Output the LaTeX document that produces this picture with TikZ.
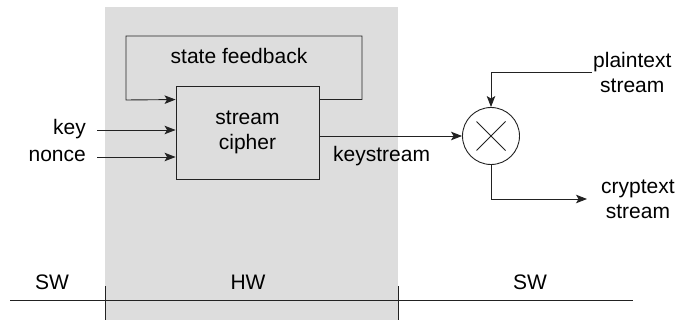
\documentclass[tikz,border=0pt]{standalone}
\usepackage{fontspec}
\setmainfont{Liberation Sans}
\usetikzlibrary{arrows.meta, positioning, calc}
\definecolor{scHW}{HTML}{DDDDDD}
\definecolor{scInk}{HTML}{222222}
\tikzset{
  scbox/.style={draw=scInk, line width=0.9pt, fill=scHW, align=center,
    minimum width=143pt, minimum height=93pt, inner sep=0pt},
  scmix/.style={circle, draw=scInk, line width=0.9pt, fill=white,
    minimum size=57pt, inner sep=0pt,
    path picture={\draw[line width=0.9pt, draw=scInk,
      shift={(path picture bounding box.center)}]
      (-14.5pt,-14.5pt) -- (14.5pt,14.5pt) (-14.5pt,14.5pt) -- (14.5pt,-14.5pt);}},
  sclabel/.style={text=black, inner sep=0pt, align=center},
  scedge/.style={-{Stealth[length=11pt, width=8.5pt, inset=2.5pt]}, line width=0.9pt, draw=scInk},
  scline/.style={line width=0.9pt, draw=scInk},
}

\begin{document}
\begin{tikzpicture}[x=1pt, y=-1pt, font=\fontsize{21}{25}\selectfont]
  \useasboundingbox (0,0) rectangle (685,320);

  % --- Hardware band ------------------------------------------------------
  \node[fill=scHW, inner sep=0pt, minimum width=293pt, minimum height=313pt,
        anchor=north west] (hw) at (105,7) {};

  % --- Cipher and feedback loop -------------------------------------------
  \node[scbox]   (cipher) at (247.5,132.5) {stream\\cipher};
  \node[sclabel] (fblbl)  at (239,56)      {state feedback};
  \coordinate (fbR) at (362,36);
  \coordinate (fbL) at (126,100);
  \draw[scedge] ($(cipher.north east)+(0,14)$) -| (fbR) -| (fbL)
        -- ($(cipher.north west)+(0,14)$);

  % inputs
  \node[sclabel, anchor=east, text height=15pt, text depth=5pt] (key)   at (86,130) {key};
  \node[sclabel, anchor=east, text height=15pt, text depth=5pt] (nonce) at (86,157) {nonce};
  \draw[scedge] ([xshift=11pt]key.east)   -- (key -| cipher.west);
  \draw[scedge] ([xshift=11pt]nonce.east) -- (nonce -| cipher.west);

  % --- Combiner -----------------------------------------------------------
  \node[scmix] (mix) at (491,136) {};
  \draw[scedge] (cipher.east |- mix) -- (mix.west);
  \node[sclabel, anchor=base west] (ks) at (333,162) {keystream};

  \node[sclabel, anchor=west, inner xsep=1pt]  (plain) at (592,72)  {plaintext\\stream};
  \node[sclabel, anchor=west, inner xsep=14pt] (crypt) at (587,199) {cryptext\\stream};
  \draw[scedge] (plain.west) -| (mix.north);
  \draw[scedge] (mix.south) |- (crypt.west);

  % --- SW / HW partition ---------------------------------------------------
  \coordinate (axisL) at (10,300);
  \coordinate (axisR) at (633,300);
  \draw[scline] (axisL) -- (axisR);
  \draw[scline] (hw.south west) -- ++(0,-34);
  \draw[scline] (hw.south east) -- ++(0,-34);
  \node[sclabel, anchor=base] (swL) at (52,290)  {SW};
  \node[sclabel, anchor=base] (hwL) at (248,290) {HW};
  \node[sclabel, anchor=base] (swR) at (530,290) {SW};

\end{tikzpicture}
\end{document}
